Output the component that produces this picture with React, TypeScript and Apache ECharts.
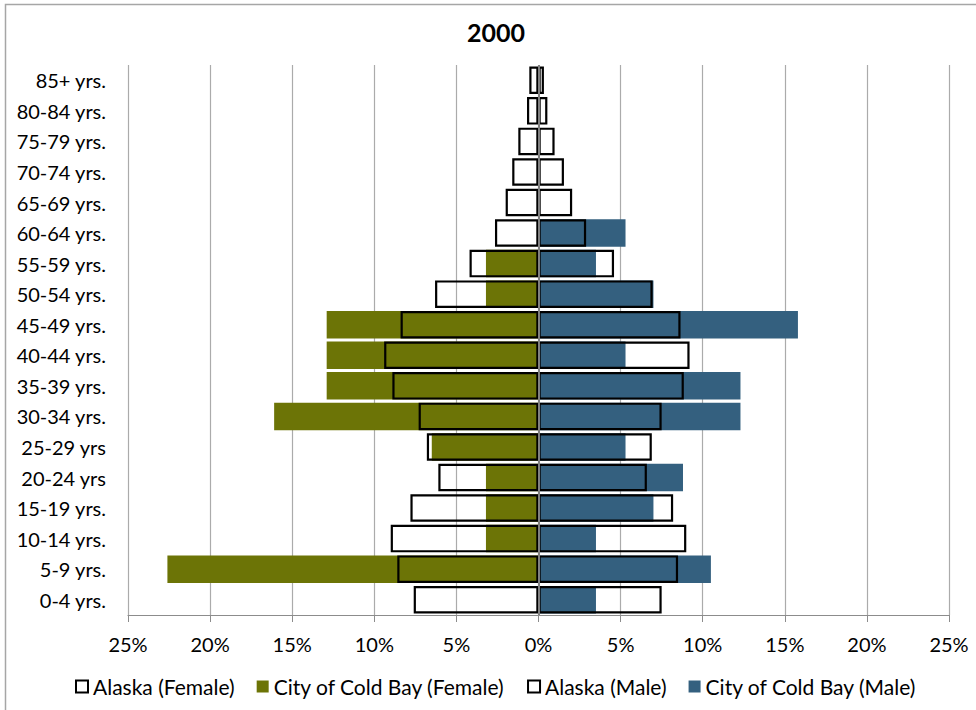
import React, { useEffect, useRef } from "react";
import * as echarts from "echarts";

const categories = [
  "0-4 yrs.", "5-9 yrs.", "10-14 yrs.", "15-19 yrs.", "20-24 yrs", "25-29 yrs",
  "30-34 yrs.", "35-39 yrs.", "40-44 yrs.", "45-49 yrs.", "50-54 yrs.", "55-59 yrs.",
  "60-64 yrs.", "65-69 yrs.", "70-74 yrs.", "75-79 yrs.", "80-84 yrs.", "85+ yrs.",
];

// percentages (female shown to the left)
const alaskaFemale = [7.6, 8.6, 9.0, 7.8, 6.1, 6.8, 7.3, 8.9, 9.4, 8.4, 6.3, 4.2, 2.65, 2.0, 1.6, 1.23, 0.7, 0.56];
const coldBayFemale = [0, 22.6, 3.2, 3.2, 3.2, 6.5, 16.1, 12.9, 12.9, 12.9, 3.2, 3.2, 0, 0, 0, 0, 0, 0];
const alaskaMale = [7.5, 8.5, 9.0, 8.2, 6.6, 6.9, 7.5, 8.85, 9.2, 8.65, 6.95, 4.6, 2.9, 2.05, 1.55, 0.98, 0.54, 0.33];
const coldBayMale = [3.5, 10.5, 3.5, 7.0, 8.8, 5.3, 12.3, 12.3, 5.3, 15.8, 7.0, 3.5, 5.3, 0, 0, 0, 0, 0];

const xTicks = { min: -25, max: 25, interval: 5 };

const FONT = "Lato, 'Noto Sans', sans-serif";
const GREEN = "#6c7406";
const BLUE = "#34607f";

export default function App() {
  const ref = useRef<HTMLDivElement>(null);
  useEffect(() => {
    if (!ref.current) return;
    const chart = echarts.init(ref.current, undefined, { renderer: "svg" });
    const alaskaStyle = { color: "rgba(255,255,255,0)", borderColor: "#000", borderWidth: 2.2 };
    chart.setOption({
      animation: false,
      backgroundColor: "#fff",
      textStyle: { fontFamily: FONT, color: "#000" },
      graphic: [
        {
          type: "rect",
          shape: { x: 5.5, y: 4.5, width: 1000, height: 800 },
          style: { fill: "none", stroke: "#a6a6a6", lineWidth: 1.5 },
          silent: true,
        },
        {
          type: "text",
          x: 496,
          y: 32,
          style: {
            text: "2000",
            fontSize: 25,
            fontWeight: "bold",
            fontFamily: FONT,
            fill: "#000",
            align: "center",
            verticalAlign: "middle",
          },
        },
      ],
      legend: {
        left: 70,
        top: 671,
        itemWidth: 12,
        itemHeight: 12,
        itemGap: 22,
        icon: "rect",
        textStyle: { fontSize: 21, fontFamily: FONT, color: "#000" },
        data: [
          { name: "Alaska (Female)", itemStyle: { color: "#fff", borderColor: "#000", borderWidth: 2 } },
          { name: "City of Cold Bay (Female)", itemStyle: { color: GREEN } },
          { name: "Alaska (Male)", itemStyle: { color: "#fff", borderColor: "#000", borderWidth: 2 } },
          { name: "City of Cold Bay (Male)", itemStyle: { color: BLUE } },
        ],
      },
      grid: { left: 128, right: 27, top: 65, bottom: 95, containLabel: false },
      xAxis: {
        type: "value",
        min: xTicks.min,
        max: xTicks.max,
        interval: xTicks.interval,
        axisLine: { show: true, lineStyle: { color: "#8c8c8c", width: 1.2 } },
        axisTick: { show: true, length: 7, lineStyle: { color: "#8c8c8c" } },
        splitLine: { show: true, lineStyle: { color: "#ababab", width: 1.2 } },
        axisLabel: {
          formatter: (v: number) => Math.abs(v) + "%",
          fontSize: 20,
          fontFamily: FONT,
          color: "#000",
          margin: 19,
        },
      },
      yAxis: {
        type: "category",
        data: categories,
        axisLine: { show: false, onZero: false },
        axisTick: { show: false },
        splitLine: { show: false },
        axisLabel: { fontSize: 20, fontFamily: FONT, color: "#000", margin: 22 },
      },
      series: [
        {
          name: "City of Cold Bay (Female)",
          type: "bar",
          stack: "cb",
          data: coldBayFemale.map((v) => -v),
          itemStyle: { color: GREEN },
          barCategoryGap: "10%",
          barGap: "-100%",
        },
        {
          name: "City of Cold Bay (Male)",
          type: "bar",
          stack: "cb",
          data: coldBayMale,
          itemStyle: { color: BLUE },
          barCategoryGap: "10%",
          barGap: "-100%",
        },
        {
          name: "Alaska (Female)",
          type: "bar",
          stack: "ak",
          data: alaskaFemale.map((v) => -v),
          itemStyle: alaskaStyle,
          barCategoryGap: "10%",
          barGap: "-100%",
        },
        {
          name: "Alaska (Male)",
          type: "bar",
          stack: "ak",
          data: alaskaMale,
          itemStyle: alaskaStyle,
          barCategoryGap: "10%",
          barGap: "-100%",
          markLine: {
            silent: true,
            symbol: ["none", "none"],
            label: { show: false },
            lineStyle: { color: "#808080", width: 2, type: "solid" },
            emphasis: { disabled: true },
            data: [{ xAxis: 0 }],
          },
        },
      ],
    });
    return () => chart.dispose();
  }, []);
  return (
    <div
      ref={ref}
      style={{ position: "fixed", left: 0, top: 0, width: 976, height: 710 }}
    />
  );
}
